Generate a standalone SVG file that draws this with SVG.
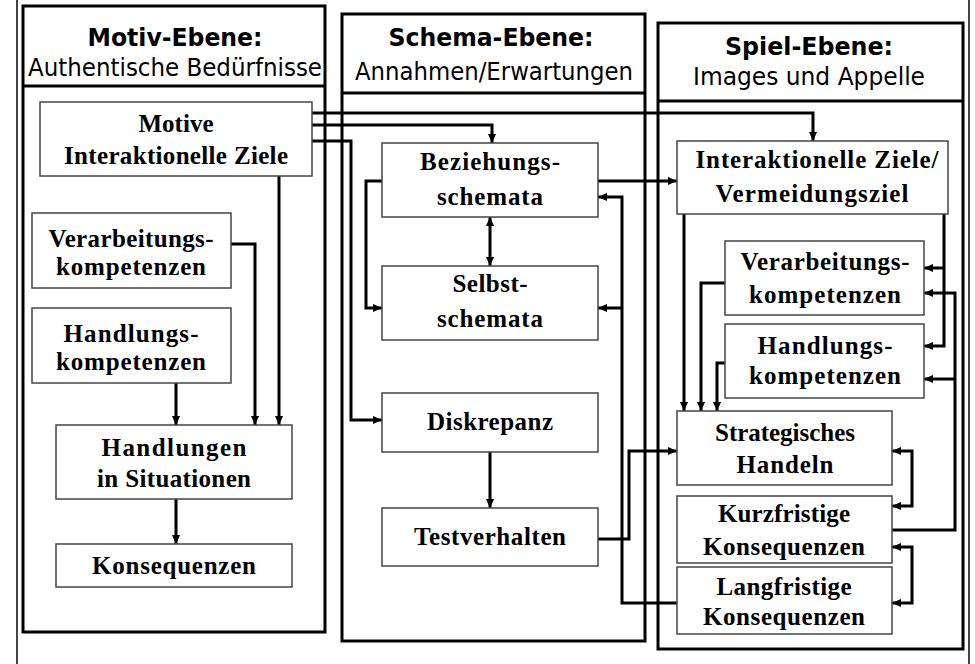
<svg xmlns="http://www.w3.org/2000/svg" width="975" height="664" viewBox="0 0 975 664">
<style>
.col{fill:none;stroke:#000;stroke-width:3}
.frame{stroke:#444;stroke-width:2;fill:none}
.nd{fill:#fff;stroke:#444;stroke-width:1.5}
.c{fill:none;stroke:#000;stroke-width:3}
.ae{marker-end:url(#ah)}
.ab{marker-end:url(#ah);marker-start:url(#ah)}
.t{font-family:"Liberation Serif","Times New Roman",serif;font-weight:bold;font-size:25px;text-anchor:middle;fill:#000}
.h1{font-family:"DejaVu Sans",Verdana,sans-serif;font-weight:bold;font-size:25px;text-anchor:middle;fill:#000}
.h2{font-family:"DejaVu Sans",Verdana,sans-serif;font-size:24px;text-anchor:middle;fill:#000}
</style>
<defs>
<marker id="ah" markerUnits="userSpaceOnUse" markerWidth="9" markerHeight="9" viewBox="0 0 10 10" refX="10" refY="5" orient="auto-start-reverse">
<path d="M0,0.5 L10,5 L0,9.5 z" fill="#000"/>
</marker>
</defs>
<rect width="975" height="664" fill="#fff"/>
<line class="frame" x1="17" y1="0" x2="17" y2="664"/>
<line class="frame" x1="969" y1="0" x2="969" y2="664"/>

<g id="col-motiv">
<rect class="col" x="23" y="6" width="302" height="626"/>
<line class="col" x1="23" y1="86" x2="325" y2="86"/>
<text class="h1" x="175" y="46" textLength="175" lengthAdjust="spacingAndGlyphs">Motiv-Ebene:</text>
<text class="h2" x="175" y="76" textLength="294" lengthAdjust="spacingAndGlyphs">Authentische Bedürfnisse</text>
</g>
<g id="col-schema">
<rect class="col" x="342" y="14" width="303" height="627"/>
<line class="col" x1="342" y1="93" x2="645" y2="93"/>
<text class="h1" x="491" y="46" textLength="205" lengthAdjust="spacingAndGlyphs">Schema-Ebene:</text>
<text class="h2" x="494" y="80" textLength="278" lengthAdjust="spacingAndGlyphs">Annahmen/Erwartungen</text>
</g>
<g id="col-spiel">
<rect class="col" x="658" y="23" width="305" height="626"/>
<line class="col" x1="658" y1="101" x2="963" y2="101"/>
<text class="h1" x="809" y="55" textLength="168" lengthAdjust="spacingAndGlyphs">Spiel-Ebene:</text>
<text class="h2" x="809" y="85" textLength="232" lengthAdjust="spacingAndGlyphs">Images und Appelle</text>
</g>

<g id="connectors">
<path class="c ae" d="M279,176 V425"/>
<path class="c ae" d="M231,244 H255 V425"/>
<path class="c ae" d="M176,383 V425"/>
<path class="c ae" d="M176,499 V544"/>
<path class="c ae" d="M312,113 H813 V141"/>
<path class="c ae" d="M312,125 H492 V143"/>
<path class="c ae" d="M312,141 H351 V420 H382"/>
<path class="c ab" d="M490,217 V266"/>
<path class="c ae" d="M382,181 H366 V308 H382"/>
<path class="c ae" d="M598,181 H677"/>
<path class="c ae" d="M677,603 H622 V197 H598"/>
<path class="c ae" d="M622,308 H598"/>
<path class="c ae" d="M490,452 V508"/>
<path class="c ae" d="M598,539 H629 V451 H677"/>
<path class="c ae" d="M684,214 V411"/>
<path class="c ae" d="M725,283 H701 V411"/>
<path class="c ae" d="M725,363 H717 V411"/>
<path class="c ae" d="M944,214 V346 H924"/>
<path class="c ae" d="M944,268 H924"/>
<path class="c ae" d="M892,530 H955 V293 H924"/>
<path class="c ae" d="M955,379 H924"/>
<path class="c ab" d="M892,451 H912 V506 H892"/>
<path class="c ab" d="M892,547 H912 V603 H892"/>
</g>

<g id="n-motive">
<rect class="nd" x="40" y="102" width="272" height="74"/>
<text class="t" x="176" y="132" textLength="75">Motive</text>
<text class="t" x="176" y="164" textLength="224">Interaktionelle Ziele</text>
</g>
<g id="n-verarb-l">
<rect class="nd" x="32" y="213" width="199" height="75"/>
<text class="t" x="131" y="247" textLength="165">Verarbeitungs-</text>
<text class="t" x="131" y="275" textLength="150">kompetenzen</text>
</g>
<g id="n-handl-l">
<rect class="nd" x="32" y="308" width="199" height="75"/>
<text class="t" x="131" y="342" textLength="135">Handlungs-</text>
<text class="t" x="131" y="370" textLength="150">kompetenzen</text>
</g>
<g id="n-handlungen">
<rect class="nd" x="56" y="425" width="236" height="74"/>
<text class="t" x="174" y="456" textLength="145">Handlungen</text>
<text class="t" x="174" y="487" textLength="154">in Situationen</text>
</g>
<g id="n-konseq">
<rect class="nd" x="56" y="544" width="236" height="43"/>
<text class="t" x="174" y="574" textLength="164">Konsequenzen</text>
</g>

<g id="n-bezieh">
<rect class="nd" x="382" y="143" width="216" height="74"/>
<text class="t" x="490" y="170" textLength="140">Beziehungs-</text>
<text class="t" x="490" y="205" textLength="106">schemata</text>
</g>
<g id="n-selbst">
<rect class="nd" x="382" y="266" width="216" height="74"/>
<text class="t" x="490" y="292" textLength="75">Selbst-</text>
<text class="t" x="490" y="327" textLength="106">schemata</text>
</g>
<g id="n-diskrepanz">
<rect class="nd" x="382" y="393" width="216" height="59"/>
<text class="t" x="490" y="430" textLength="126">Diskrepanz</text>
</g>
<g id="n-test">
<rect class="nd" x="382" y="508" width="216" height="58"/>
<text class="t" x="490" y="545" textLength="152">Testverhalten</text>
</g>

<g id="n-izv">
<rect class="nd" x="677" y="141" width="271" height="73"/>
<text class="t" x="817" y="168" textLength="243">Interaktionelle Ziele/</text>
<text class="t" x="812" y="202" textLength="193">Vermeidungsziel</text>
</g>
<g id="n-verarb-r">
<rect class="nd" x="725" y="241" width="199" height="74"/>
<text class="t" x="825" y="270" textLength="169">Verarbeitungs-</text>
<text class="t" x="825" y="303" textLength="152">kompetenzen</text>
</g>
<g id="n-handl-r">
<rect class="nd" x="725" y="324" width="199" height="74"/>
<text class="t" x="825" y="354" textLength="135">Handlungs-</text>
<text class="t" x="825" y="384" textLength="152">kompetenzen</text>
</g>
<g id="n-strat">
<rect class="nd" x="677" y="411" width="215" height="74"/>
<text class="t" x="785" y="441" textLength="140">Strategisches</text>
<text class="t" x="785" y="473" textLength="97">Handeln</text>
</g>
<g id="n-kurz">
<rect class="nd" x="677" y="496" width="215" height="67"/>
<text class="t" x="784" y="522" textLength="132">Kurzfristige</text>
<text class="t" x="784" y="555" textLength="162">Konsequenzen</text>
</g>
<g id="n-lang">
<rect class="nd" x="677" y="567" width="215" height="67"/>
<text class="t" x="784" y="595" textLength="135">Langfristige</text>
<text class="t" x="784" y="625" textLength="162">Konsequenzen</text>
</g>
</svg>
